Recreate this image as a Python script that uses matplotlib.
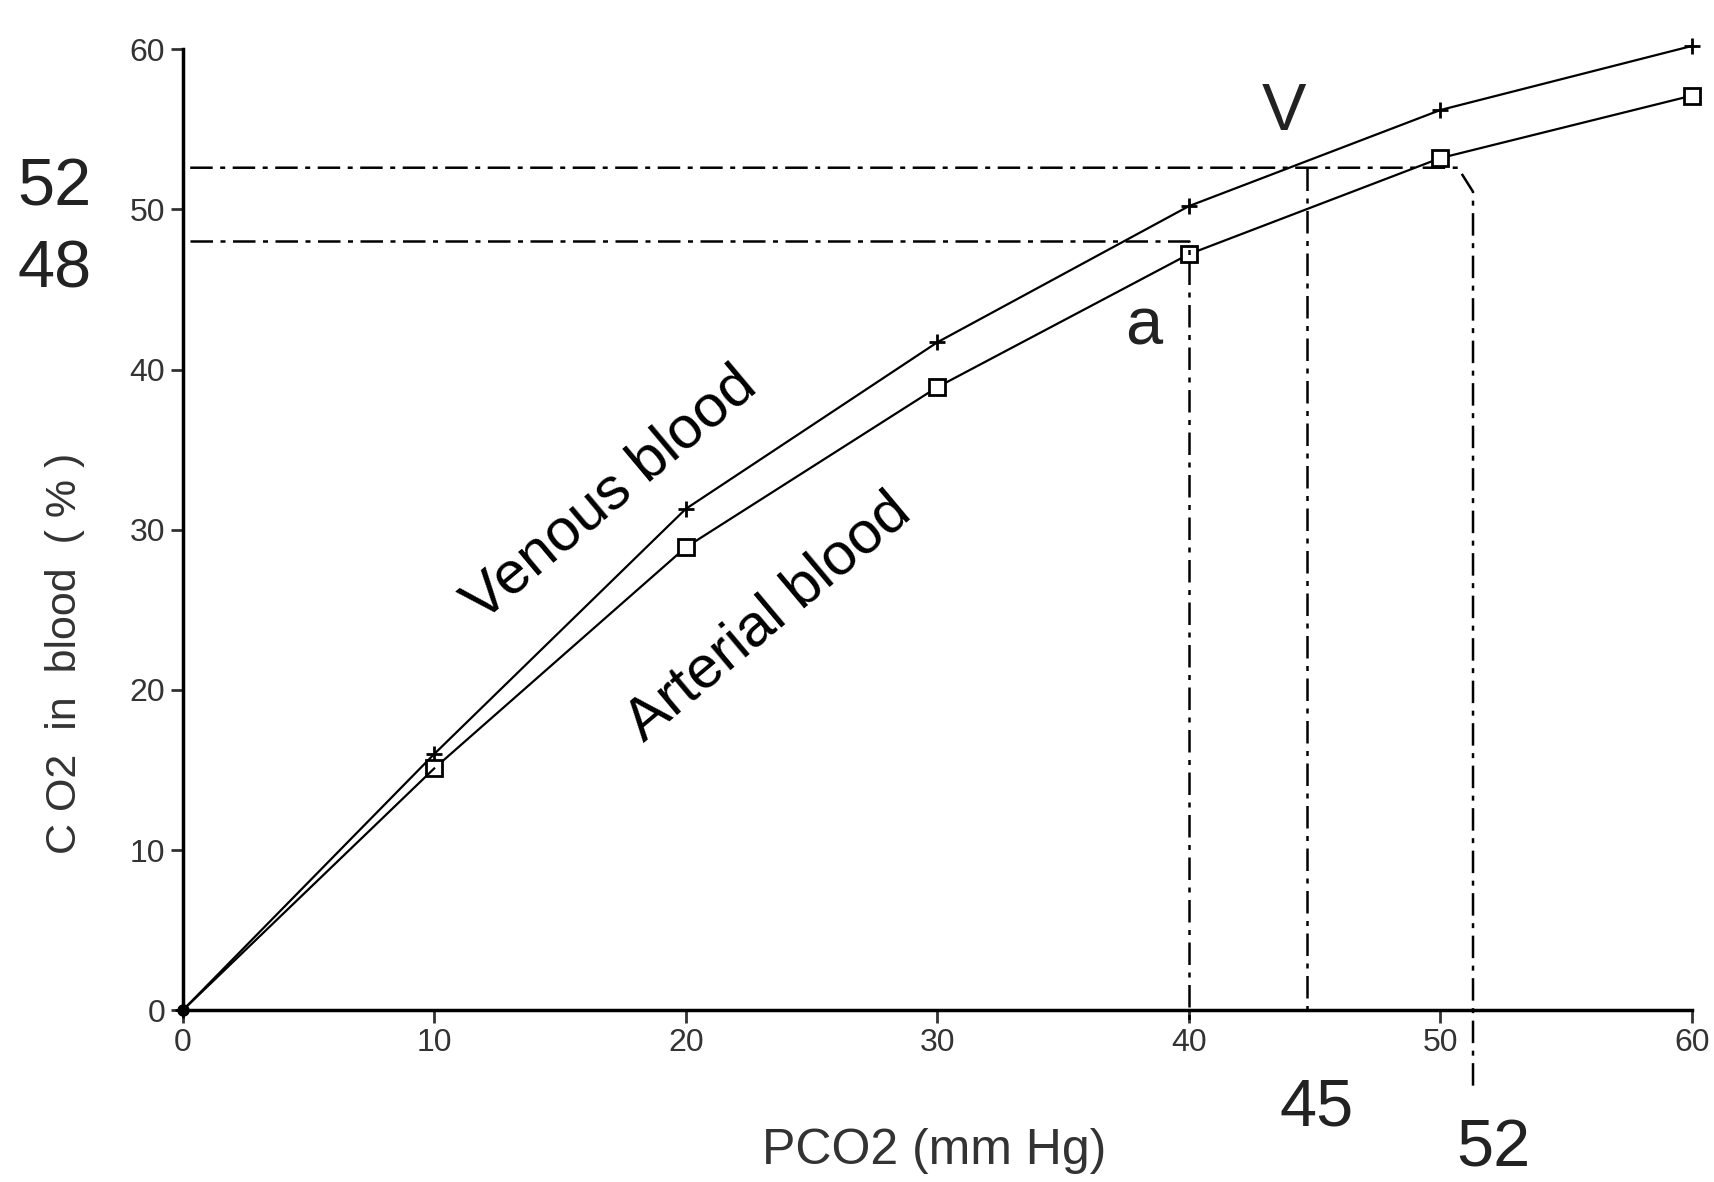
import matplotlib.pyplot as plt

# Data
pco2 = [0, 10, 20, 30, 40, 50, 60]
venous = [0, 16.0, 31.3, 41.7, 50.2, 56.2, 60.2]
arterial = [0, 15.1, 28.9, 38.9, 47.2, 53.2, 57.1]

# Guide lines (x, y)
art_x, art_y = 40, 48
ven_x, ven_y = 44.7, 52.6
ven_x2 = 51.3

fnt = ['Liberation Sans Narrow', 'Liberation Sans', 'DejaVu Sans']
plt.rcParams['font.family'] = fnt

fig = plt.figure(figsize=(17.15, 11.82), dpi=100)
ax = fig.add_axes([0.1065, 0.1452, 0.88, 0.8132])

ax.plot(pco2, venous, color='black', lw=1.6, marker='+', ms=11, mew=2,
        clip_on=False)
ax.plot(pco2[1:], arterial[1:], color='black', lw=1.6, marker='s', ms=11,
        mfc='white', mec='black', mew=2, clip_on=False)
ax.plot(pco2[:2], arterial[:2], color='black', lw=1.6, clip_on=False)
ax.plot([0], [0], 'o', color='black', ms=8, clip_on=False)

dd = (0, (9, 3, 2, 3))
ax.plot([0.3, art_x, art_x], [art_y, art_y, -1], color='black', lw=1.8,
        linestyle=dd, clip_on=False)
ax.plot([0.3, ven_x2 - 0.6, ven_x2, ven_x2], [ven_y, ven_y, ven_y - 1.5, -5],
        color='black', lw=1.8, linestyle=dd, clip_on=False)
ax.plot([ven_x, ven_x], [ven_y, 0], color='black', lw=1.8,
        linestyle=dd, clip_on=False)

ax.set_xlim(0, 60)
ax.set_ylim(0, 60)
ax.set_xticks(pco2)
ax.set_yticks([0, 10, 20, 30, 40, 50, 60])
ax.tick_params(labelsize=23, width=2, length=9, colors='#333333')
for s in ['top', 'right']:
    ax.spines[s].set_visible(False)
for s in ['left', 'bottom']:
    ax.spines[s].set_linewidth(2.5)

big = dict(fontsize=48, color='#222222', clip_on=False, ha='center', va='center')
ax.text(-5.1, 51.3, '52', **big)
ax.text(-5.1, 46.2, '48', **big)
ax.text(43.8, 56.0, 'V', **big)
ax.text(38.2, 42.6, 'a', **big)
ax.text(45.1, -6.1, '45', **big)
ax.text(52.1, -8.7, '52', **big)

ax.text(17.0, 32.2, 'Venous blood', fontsize=43, rotation=40,
        ha='center', va='center', rotation_mode='anchor', family='Liberation Sans')
ax.text(23.3, 24.5, 'Arterial blood', fontsize=43, rotation=40,
        ha='center', va='center', rotation_mode='anchor', family='Liberation Sans')

fig.text(0.038, 0.447, 'C O2  in  blood  ( % )', rotation=90, fontsize=31,
         ha='center', va='center', color='#333333')
fig.text(0.545, 0.026, 'PCO2 (mm Hg)', fontsize=36, ha='center', va='center',
         color='#333333')

fig.savefig('out.png', dpi=100)
